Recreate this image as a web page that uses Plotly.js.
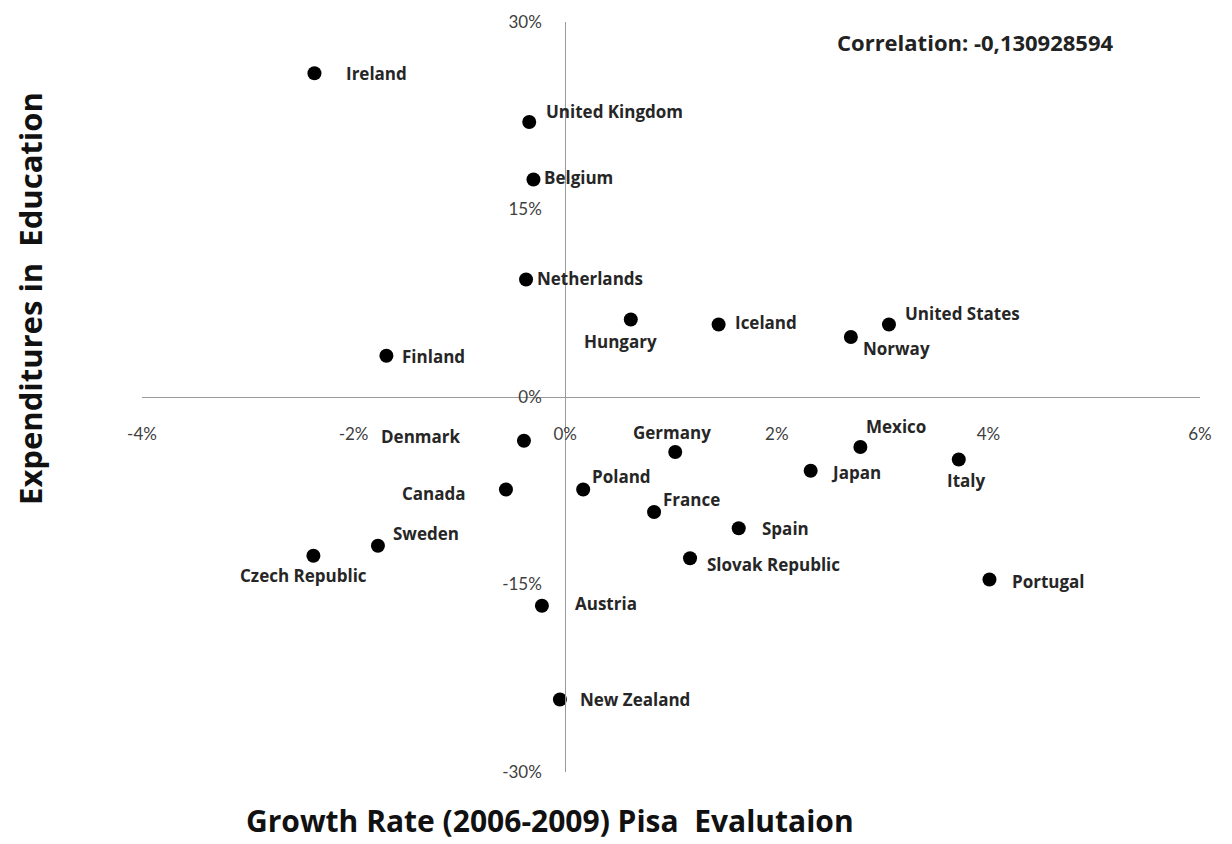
<!DOCTYPE html>
<html>
<head>
<meta charset="utf-8">
<script src="https://cdn.plot.ly/plotly-3.0.1.min.js"></script>
<style>html,body{margin:0;padding:0;background:#fff;}#chart{width:1232px;height:844px;}</style>
</head>
<body>
<div id="chart"></div>
<script>
// Data (percent values)
const countries = ["Ireland","United Kingdom","Belgium","Netherlands","Hungary","Iceland","United States","Norway","Finland","Denmark","Germany","Mexico","Japan","Italy","Canada","Poland","France","Spain","Sweden","Czech Republic","Slovak Republic","Portugal","Austria","New Zealand"];
const growthRate = [-2.37,-0.34,-0.30,-0.37,0.62,1.45,3.06,2.70,-1.69,-0.39,1.04,2.79,2.32,3.72,-0.56,0.17,0.84,1.64,-1.77,-2.38,1.18,4.01,-0.22,-0.05];
const expenditures = [25.9,22.0,17.4,9.4,6.2,5.8,5.8,4.8,3.3,-3.5,-4.4,-4.0,-5.9,-5.0,-7.4,-7.4,-9.2,-10.5,-11.9,-12.7,-12.9,-14.6,-16.7,-24.2];
const xTickVals = [-4,-2,0,2,4,6];
const xTickText = ["-4%","-2%","0%","2%","4%","6%"];
const yTickVals = [-30,-15,0,15,30];
const yTickText = ["-30%","-15%","0%","15%","30%"];
const correlationText = "Correlation: -0,130928594";
const xTitle = "Growth Rate (2006-2009) Pisa  Evalutaion";
const yTitle = "Expenditures in  Education";

// Label placement styling: [xanchor, xshift, yshift]
const labelStyle = [
  ["left",30,0],["left",15,11],["left",9,2],["left",9,1],["center",-10,-22],
  ["left",14,2],["left",14,11],["left",10,-11],["left",14,-1],["right",-62,4],
  ["center",-3,20],["left",4,21],["left",18,-2],["center",7,-21],["right",-38,-4],
  ["left",7,13],["left",7,13],["left",21,0],["left",13,12],["center",-10,-20],
  ["left",15,-6],["left",21,-2],["left",31,2],["left",18,0]
];

const labelFamily = "'Open Sans', 'DejaVu Sans', sans-serif";

const annotations = countries.map((c,i) => ({
  x: growthRate[i], y: expenditures[i], xref: "x", yref: "y",
  text: "<b>" + c + "</b>", showarrow: false,
  xanchor: labelStyle[i][0], yanchor: "middle",
  xshift: labelStyle[i][1], yshift: labelStyle[i][2],
  font: {family: labelFamily, size: 17, color: "#262626"}
}));

annotations.push({
  xref: "paper", yref: "paper", x: 0.655, y: 0.973, xanchor: "left", yanchor: "middle",
  text: "<b>" + correlationText + "</b>", showarrow: false,
  font: {family: labelFamily, size: 22, color: "#222"}
});
annotations.push({
  xref: "paper", yref: "paper", x: 0.3856, y: -0.0653, xanchor: "center", yanchor: "middle",
  text: "<b>" + xTitle + "</b>", showarrow: false,
  font: {family: labelFamily, size: 30, color: "#111"}
});
annotations.push({
  xref: "paper", yref: "paper", x: -0.1059, y: 0.632, xanchor: "center", yanchor: "middle",
  text: "<b>" + yTitle + "</b>", showarrow: false, textangle: -90,
  font: {family: labelFamily, size: 31, color: "#111"}
});

const trace = {
  x: growthRate, y: expenditures, text: countries,
  type: "scatter", mode: "markers",
  marker: {color: "#000", size: 14},
  hoverinfo: "text", cliponaxis: false
};

const layout = {
  width: 1232, height: 844,
  margin: {l: 142, r: 32, t: 22, b: 72},
  paper_bgcolor: "#fff", plot_bgcolor: "#fff",
  showlegend: false,
  xaxis: {
    range: [-4, 6], anchor: "free", position: 0.5,
    tickvals: xTickVals, ticktext: xTickText,
    showgrid: false, zeroline: false, showline: true,
    linecolor: "#9a9a9a", linewidth: 1, ticks: "",
    ticklabelstandoff: 22,
    tickfont: {family: "Lato, 'Open Sans', sans-serif", size: 17, color: "#404040"}
  },
  yaxis: {
    range: [-30, 30], anchor: "free", position: 0.4,
    tickvals: yTickVals, ticktext: yTickText,
    showgrid: false, zeroline: false, showline: true,
    linecolor: "#9a9a9a", linewidth: 1, ticks: "",
    ticklabelstandoff: 20,
    tickfont: {family: "Lato, 'Open Sans', sans-serif", size: 17, color: "#404040"}
  },
  annotations: annotations
};

Plotly.newPlot("chart", [trace], layout, {displayModeBar: false, staticPlot: true});
</script>
</body>
</html>
